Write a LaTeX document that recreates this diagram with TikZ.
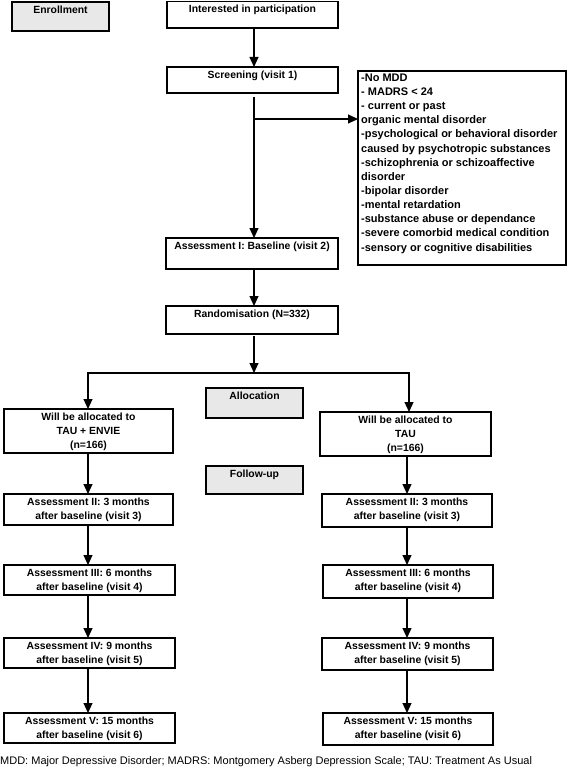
\documentclass[tikz,border=0pt]{standalone}
\usepackage{fontspec}
\setmainfont{Liberation Sans}
\usetikzlibrary{arrows.meta,calc}
\definecolor{lgray}{RGB}{232,232,232}
\tikzset{
  boxst/.style={draw=black, line width=1.6pt, inner sep=0pt, outer sep=0pt, rectangle},
  grayst/.style={fill=lgray},
  txt/.style={font=\fontsize{10.4}{14}\selectfont\bfseries, inner sep=0pt, align=center},
  ln/.style={line width=1.2pt},
  arr/.style={line width=1.2pt, -{Triangle[width=9pt,length=10pt]}},
}
\newcommand\mkbox[7][]{%
  \pgfmathsetmacro\bw{#5-#3}\pgfmathsetmacro\bh{#6-#4}%
  \node[boxst,#1,minimum width=\bw pt,minimum height=\bh pt] (#2) at ({(#3+#5)/2},{(#4+#6)/2}) {};
  \node[txt,anchor=north] (#2-t) at ([yshift=-3.5pt]#2.north) {#7};
}
\begin{document}
\begin{tikzpicture}[x=1pt,y=-1pt]
\useasboundingbox (0,0) rectangle (568,768);
% boxes
\mkbox[grayst]{enr}{12}{2}{109}{31}{Enrollment}
\mkbox{int}{167}{1.5}{338}{28}{Interested in participation}
\mkbox{scr}{167}{67}{338}{93}{Screening (visit 1)}
\node[boxst,minimum width=208pt,minimum height=194pt] (exc) at (462,168) {};
\node[txt,anchor=north west,align=left,font=\fontsize{11}{14.15}\selectfont\bfseries] (exc-t) at ([xshift=3pt,yshift=-2.5pt]exc.north west) {-No MDD\\
- MADRS < 24\\
- current or past\\
organic mental disorder\\
-psychological or behavioral disorder\\
caused by psychotropic substances\\
-schizophrenia or schizoaffective\\
disorder\\
-bipolar disorder\\
-mental retardation\\
-substance abuse or dependance\\
-severe comorbid medical condition\\
-sensory or cognitive disabilities};
\mkbox{a1}{166}{238}{338}{269}{Assessment I: Baseline (visit 2)}
\mkbox{rnd}{166}{306}{338}{334}{Randomisation (N=332)}
\mkbox[grayst]{alloc}{206}{388}{303}{418}{Allocation}
\mkbox{tl}{4}{409}{173}{453}{Will be allocated to\\TAU + ENVIE\\(n=166)}
\mkbox{tr}{320}{412}{491}{456}{Will be allocated to\\TAU\\(n=166)}
\mkbox[grayst]{fu}{206}{466}{303}{494}{Follow-up}
\mkbox{l2}{4}{494}{173}{525}{Assessment II: 3 months\\after baseline (visit 3)}
\mkbox{r2}{322}{494}{492}{527}{Assessment II: 3 months\\after baseline (visit 3)}
\mkbox{l3}{4}{565}{175}{595}{Assessment III: 6 months\\after baseline (visit 4)}
\mkbox{r3}{323}{565}{493}{598}{Assessment III: 6 months\\after baseline (visit 4)}
\mkbox{l4}{4}{638}{175}{668}{Assessment IV: 9 months\\after baseline (visit 5)}
\mkbox{r4}{322}{638}{493}{670}{Assessment IV: 9 months\\after baseline (visit 5)}
\mkbox{l5}{4}{713}{175}{743}{Assessment V: 15 months\\after baseline (visit 6)}
\mkbox{r5}{323}{713}{493}{745}{Assessment V: 15 months\\after baseline (visit 6)}
\node[anchor=west,inner sep=0pt,font=\fontsize{11}{12}\selectfont] (foot) at (0,762) {MDD: Major Depressive Disorder; MADRS: Montgomery Asberg Depression Scale; TAU: Treatment As Usual};
% connectors
\coordinate (cx) at (254,0);
\coordinate (lx) at (88,0);
\coordinate (rx) at (407,0);
\coordinate (brx) at (254,119);
\coordinate (bl) at (88,373);
\coordinate (bm) at (254,373);
\coordinate (bre) at (410,373);
\coordinate (brd) at (409,373);
\draw[arr] (int.south -| cx) -- (scr.north -| cx);
\draw[arr, shorten <=4pt] (scr.south -| cx) -- (a1.north -| cx);
\draw[arr] (brx) -- (brx -| exc.west);
\draw[arr] (a1.south -| cx) -- (rnd.north -| cx);
\draw[arr, shorten <=2pt] (rnd.south -| cx) -- (bm);
\draw[arr] (bre) -- (bl) -- (tl.north -| bl);
\draw[arr] (brd) -- (tr.north -| brd);
\draw[arr] (tl.south -| lx) -- (l2.north -| lx);
\draw[arr] (l2.south -| lx) -- (l3.north -| lx);
\draw[arr] (l3.south -| lx) -- (l4.north -| lx);
\draw[arr] (l4.south -| lx) -- (l5.north -| lx);
\draw[arr] (tr.south -| rx) -- (r2.north -| rx);
\draw[arr] (r2.south -| rx) -- (r3.north -| rx);
\draw[arr] (r3.south -| rx) -- (r4.north -| rx);
\draw[arr] (r4.south -| rx) -- (r5.north -| rx);
\end{tikzpicture}
\end{document}
